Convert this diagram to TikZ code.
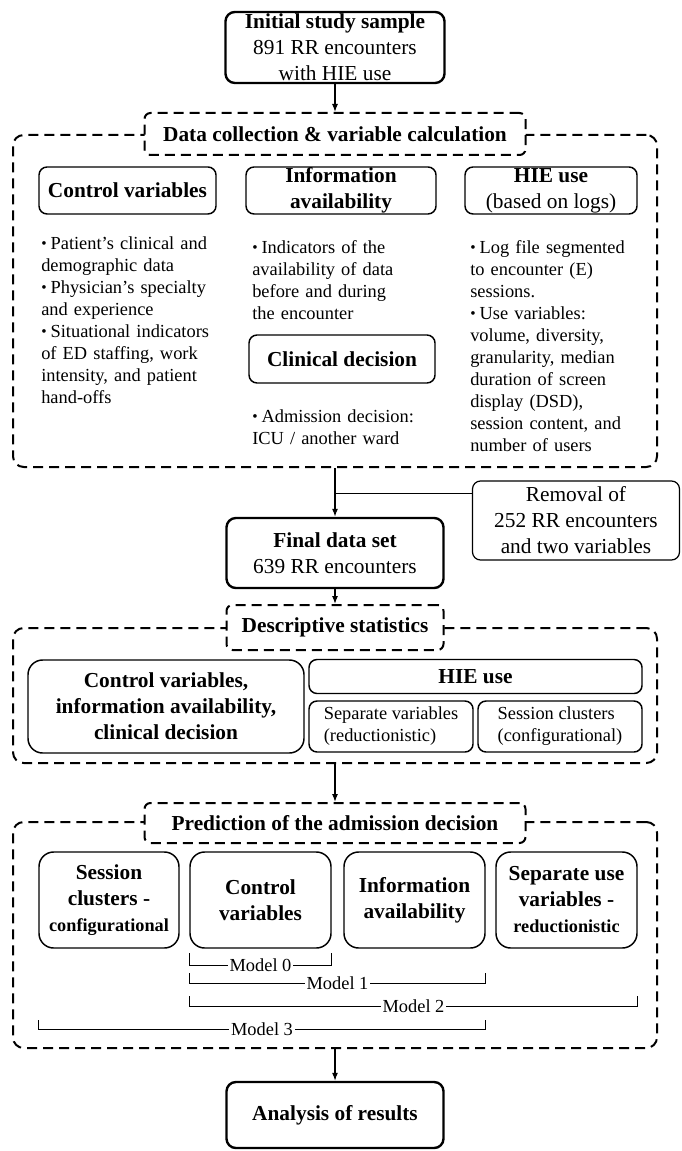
\documentclass[tikz,border=0pt]{standalone}
\usepackage{fontspec}
\setmainfont{Liberation Serif}
\usetikzlibrary{arrows.meta}
\newcommand{\hdfont}{\fontsize{16}{19.5}\selectfont}
\newcommand{\txfont}{\fontsize{13.8}{16.5}\selectfont}
\newcommand{\subfont}{\fontsize{13.7}{16}\selectfont}
\newcommand{\bitem}{\par\noindent\hangindent=7pt\hangafter=1%
    \makebox[7pt][l]{\raisebox{0.6pt}{\fontsize{11.5}{11.5}\selectfont\textbullet}}}

\begin{document}
\begin{tikzpicture}[x=0.75pt,y=-0.75pt,
    mainbox/.style={draw,line width=1.8pt,rounded corners=7pt,align=center,font=\hdfont,inner sep=0pt},
    subbox/.style={draw,line width=1.1pt,rounded corners=6pt,align=center,font=\hdfont,inner sep=0pt},
    modelbox/.style={subbox,rounded corners=11pt,font=\hdfont\bfseries,minimum width=105.75pt,minimum height=72pt},
    stagebox/.style={draw,line width=1.5pt,dash pattern=on 7.5pt off 4.5pt,rounded corners=8pt,inner sep=0pt},
    heading/.style={stagebox,fill=white,rounded corners=4.5pt,font=\hdfont\bfseries},
    bullets/.style={font=\txfont,text width=135pt,align=left,inner sep=0pt,anchor=north west},
    flow/.style={-{Latex[length=6pt,width=4.5pt]},line width=0.9pt},
    bracket/.style={line width=0.6pt},
    modellabel/.style={fill=white,font=\txfont,inner sep=1.5pt}]
    \useasboundingbox (0,0) rectangle (681,1151);

    % initial sample
    \node[mainbox,minimum width=164.25pt,minimum height=53.25pt] (init) at (335,47.5)
        {\textbf{Initial study sample}\\891 RR encounters\\with HIE use};

    % data collection
    \node[stagebox,minimum width=483pt,minimum height=249pt] (collect) at (335,301) {};
    \node[heading,minimum width=285.75pt,minimum height=31.5pt] (collecthead) at (335,134)
        {Data collection \& variable calculation};
    \draw[flow] (init.south) -- (collecthead.north);
    \node[subbox,minimum width=132.75pt,minimum height=35.25pt] (ctrl) at (127.5,190.5)
        {\textbf{Control variables}};
    \node[subbox,minimum width=142.5pt,minimum height=35.25pt] (avail) at (341,190.5)
        {\textbf{Information}\\\textbf{availability}};
    \node[subbox,minimum width=129pt,minimum height=35.25pt] (hie) at (551,190.5)
        {\textbf{HIE use}\\(based on logs)};
    \node[bullets] (ctrllist) at (41,227)
        {\bitem Patient's clinical and\\demographic data
         \bitem Physician's specialty\\and experience
         \bitem Situational indicators\\of ED staffing, work\\intensity, and patient\\hand-offs};
    \node[bullets] (availlist) at (252,231)
        {\bitem Indicators of the\\availability of data\\before and during\\the encounter};
    \node[subbox,minimum width=139.5pt,minimum height=36pt] (decision) at (342,359)
        {\textbf{Clinical decision}};
    \node[bullets] (decisionlist) at (252,400)
        {\bitem Admission decision:\\ICU / another ward};
    \node[bullets] (hielist) at (470,231)
        {\bitem Log file segmented\\to encounter (E)\\sessions.
         \bitem Use variables:\\volume, diversity,\\granularity, median\\duration of screen\\display (DSD),\\session content, and\\number of users};

    % final data set
    \node[mainbox,minimum width=162.75pt,minimum height=52.5pt] (final) at (335,553)
        {\textbf{Final data set}\\639 RR encounters};
    \node[subbox,line width=0.9pt,minimum width=155.25pt,minimum height=59.25pt] (removal) at (576,520.5)
        {Removal of\\252 RR encounters\\and two variables};
    \coordinate (split) at (335,493);
    \draw[flow] (collect.south) -- (final.north);
    \draw[line width=0.6pt] (split) -- (split -| removal.west);

    % descriptive statistics
    \node[stagebox,minimum width=483pt,minimum height=101.25pt] (describe) at (335,695.5) {};
    \node[heading,minimum width=162.75pt,minimum height=33.75pt] (describehead) at (335,627.5)
        {Descriptive statistics};
    \draw[flow] (final.south) -- (describehead.north);
    \node[subbox,rounded corners=11pt,font=\hdfont\bfseries,minimum width=207pt,minimum height=69.75pt]
        (covars) at (166,706.5) {Control variables,\\information availability,\\clinical decision};
    \node[subbox,minimum width=249.75pt,minimum height=25.5pt] (hieuse) at (475.5,676.5) {\textbf{HIE use}};
    \node[subbox,font=\txfont,align=left,minimum width=123pt,minimum height=38.25pt]
        (sepvars) at (391,726.5) {Separate variables\\(reductionistic)};
    \node[subbox,font=\txfont,align=left,minimum width=123pt,minimum height=38.25pt]
        (clusters) at (560,726.5) {Session clusters\\(configurational)};

    % prediction
    \node[stagebox,minimum width=483pt,minimum height=169.5pt] (predict) at (335,935) {};
    \node[heading,minimum width=285.75pt,minimum height=30pt] (predicthead) at (335,823)
        {Prediction of the admission decision};
    \draw[flow] (describe.south) -- (predicthead.north);
    \node[modelbox,minimum width=105pt] (clustvars) at (109,900)
        {Session\\clusters -\\{\subfont configurational}};
    \node[modelbox] (ctrlvars) at (260.5,900) {Control\\variables};
    \node[modelbox] (availvars) at (414.5,900) {Information\\availability};
    \node[modelbox] (usevars) at (566.5,900)
        {Separate use\\variables -\\{\subfont reductionistic}};
    \foreach \lft/\rgt/\tk/\lev/\m in {ctrlvars/ctrlvars/953/965/0,ctrlvars/availvars/973/983/1,
            ctrlvars/usevars/996/1006/2,clustvars/availvars/1020/1029/3}
        \draw[bracket] (\lft.west |- 0,\tk) -- (\lft.west |- 0,\lev)
            -- node[modellabel] (model\m) {Model \m} (\rgt.east |- 0,\lev) -- (\rgt.east |- 0,\tk);

    % results
    \node[mainbox,font=\hdfont\bfseries,minimum width=162.75pt,minimum height=49.5pt] (results) at (335,1115)
        {Analysis of results};
    \draw[flow] (predict.south) -- (results.north);
\end{tikzpicture}
\end{document}
